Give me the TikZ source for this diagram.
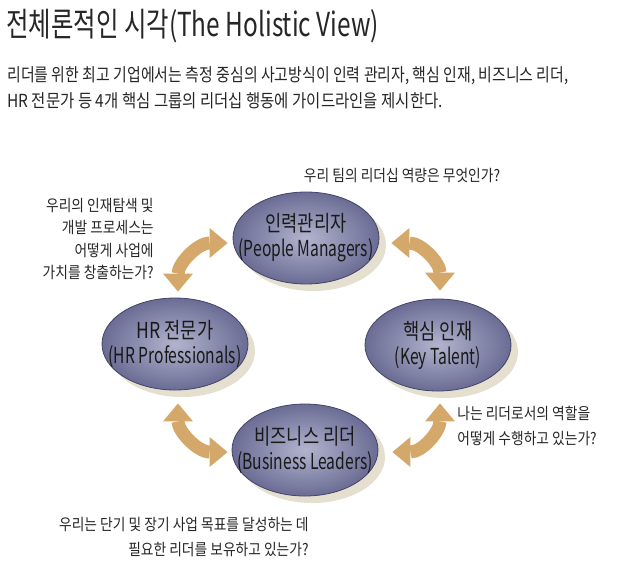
\documentclass[tikz,border=0pt]{standalone}
\usepackage{fontspec}
\setmainfont{Noto Sans CJK KR}[FakeStretch=0.8]
\newfontfamily\krtitle{Noto Sans CJK KR}[FakeStretch=0.74]
\newfontfamily\krtext{Noto Sans CJK KR}[FakeStretch=0.86]
\newfontfamily\krnarrow{Noto Sans CJK KR}[FakeStretch=0.71]
\usetikzlibrary{shapes.geometric,arrows.meta,shadows}
\definecolor{roleedge}{RGB}{106,108,148}
\definecolor{rolemid}{RGB}{178,180,206}
\definecolor{roleline}{RGB}{66,68,104}
\definecolor{shadowbeige}{RGB}{228,223,206}
\definecolor{swingtan}{RGB}{212,168,106}
\definecolor{inkgray}{RGB}{38,38,38}
\newcommand{\eng}[1]{{\krnarrow #1}}
\begin{document}
\begin{tikzpicture}[x=1pt,y=-1pt,thick]
    \tikzstyle{role}=[ellipse, draw=roleline, line width=0.8pt, inner color=rolemid, outer color=roleedge, minimum width=146pt, minimum height=92pt, inner xsep=-24pt, inner ysep=0pt, align=center, text=black!90, font=\fontsize{22}{25}\selectfont, drop shadow={shadow xshift=7pt, shadow yshift=-7pt, fill=shadowbeige, opacity=1}]
    \tikzstyle{swing}=[draw=swingtan, line width=13pt, {Triangle[width=30pt,length=18pt,line width=0pt]}-{Triangle[width=30pt,length=18pt,line width=0pt]}]
    \tikzstyle{question}=[inner sep=0pt, text=inkgray, font=\krtext\fontsize{16}{22.5}\selectfont]
    \fill[white] (0,0) rectangle (628,568);
    \useasboundingbox (0,0) rectangle (628,568);
    \node[anchor=west, inner sep=0pt, text=inkgray, font=\krtitle\fontsize{33}{40}\selectfont] (title) at (6,26) {전체론적인 시각(The Holistic View)};
    \node[anchor=west, align=left, inner sep=0pt, text=inkgray, font=\krtext\fontsize{18}{26}\selectfont] (intro) at (7,88) {\addfontfeature{FakeStretch=0.83}리더를 위한 최고 기업에서는 측정 중심의 사고방식이 인력 관리자, 핵심 인재, 비즈니스 리더,\\HR 전문가 등 4개 핵심 그룹의 리더십 행동에 가이드라인을 제시한다.};
    \node[role] (pm) at (306,238) {인력관리자\\\eng{(People Managers)}};
    \node[role] (hr) at (175,344) {HR 전문가\\\eng{(HR Professionals)}};
    \node[role] (key) at (438,345) {핵심 인재\\\eng{(Key Talent)}};
    \node[role] (biz) at (305,450) {비즈니스 리더\\\eng{(Business Leaders)}};
    \node[question] (qpm) at (402,176) {우리 팀의 리더십 역량은 무엇인가?};
    \node[question, anchor=east, align=right] (qhr) at (154,239) {우리의 인재탐색 및\\개발 프로세스는\\어떻게 사업에\\가치를 창출하는가?};
    \node[question, anchor=west, align=left, font=\krtext\fontsize{16}{25}\selectfont] (qkey) at (457,426) {나는 리더로서의 역할을\\어떻게 수행하고 있는가?};
    \node[question, anchor=east, align=right, font=\krtext\fontsize{16}{25}\selectfont] (qbiz) at (309,537) {우리는 단기 및 장기 사업 목표를 달성하는 데\\필요한 리더를 보유하고 있는가?};
    \draw[swing] ([shift={(-5,5)}]pm.west) .. controls +(-30,0) and +(0,-28) .. ([shift={(3,-6)}]hr.north);
    \draw[swing] ([shift={(12,5)}]pm.east) .. controls +(30,0) and +(0,-28) .. ([shift={(2,-8)}]key.north);
    \draw[swing] ([shift={(3,13)}]hr.south) .. controls +(0,28) and +(-30,0) .. ([shift={(-4,2)}]biz.west);
    \draw[swing] ([shift={(2,12)}]key.south) .. controls +(0,28) and +(30,0) .. ([shift={(14,2)}]biz.east);
  \end{tikzpicture}
\end{document}
